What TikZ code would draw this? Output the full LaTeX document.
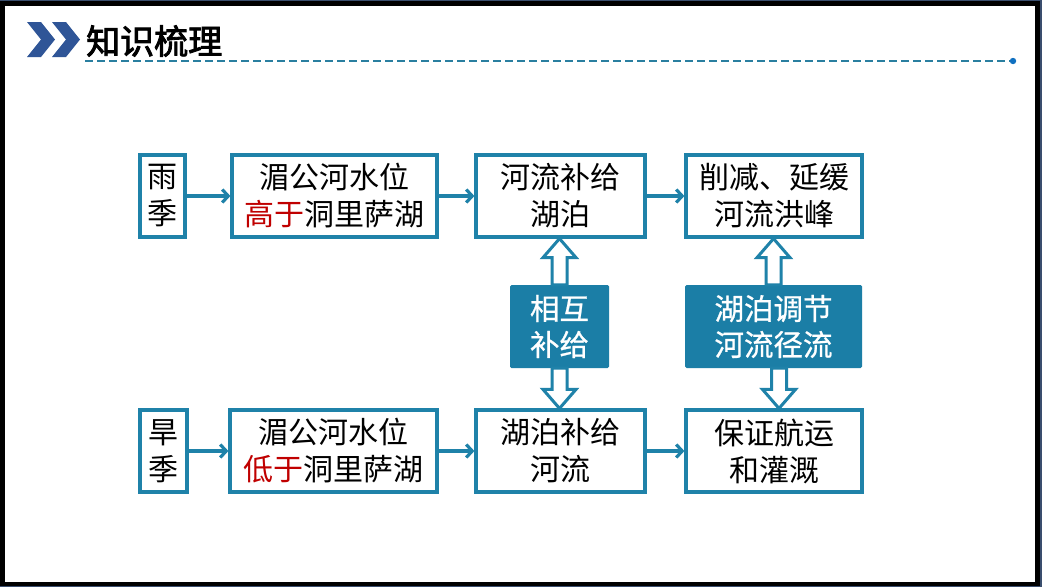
\documentclass[tikz,border=0pt]{standalone}
\usepackage{fontspec}
\newfontfamily\cjk{Noto Sans CJK SC}
\newfontfamily\cjkb[FakeBold=2.5]{Noto Sans CJK SC}
\newfontfamily\cjkm[FakeBold=0.8]{Noto Sans CJK SC}
\usetikzlibrary{arrows.meta,calc}
\definecolor{bc}{HTML}{1F82A9}
\definecolor{mfill}{HTML}{1B7EA6}
\definecolor{slate}{HTML}{3A4E6E}
\definecolor{chev}{HTML}{2F5597}
\definecolor{tred}{HTML}{C00000}
\definecolor{dashc}{HTML}{2A7FA0}
\definecolor{dotc}{HTML}{1070C0}
\tikzset{
  box/.style={draw=bc, line width=3.2pt, fill=white, align=center, inner sep=0pt,
    minimum height=82pt, font=\cjk\fontsize{30}{37}\selectfont, text=black},
  midbox/.style={fill=mfill, rounded corners=1.5pt, align=center, inner sep=0pt,
    minimum height=83pt, font=\cjkm\fontsize{29.5}{36}\selectfont, text=white},
  conn/.style={draw=bc, line width=3.2pt, -{Straight Barb[length=6pt,width=13pt,line width=3.2pt]}},
  harr/.style={draw=bc, line width=3pt, fill=white, line join=miter},
  chevron/.style={fill=chev},
}
\newcommand\blockarrow[4]{% start, tip, x-offset, direction (1 = up, -1 = down)
  \draw[harr] let \p1=#1, \p2=#2 in
    (\x1+#3-7.5pt,\y1) -- (\x1+#3-7.5pt,\y2-#4*19pt) -- (\x1+#3-16.5pt,\y2-#4*19pt)
    -- (\x1+#3,\y2) -- (\x1+#3+16.5pt,\y2-#4*19pt) -- (\x1+#3+7.5pt,\y2-#4*19pt)
    -- (\x1+#3+7.5pt,\y1) -- cycle;}
\begin{document}
\begin{tikzpicture}[x=1pt,y=-1pt]
\useasboundingbox (0,0) rectangle (1042,587);
% frame
\fill[slate] (0,0) rectangle (1042,587);
\fill[black] (0,1) rectangle (1040,586);
\fill[white] (5,5.5) rectangle (1035,581.5);
% title
\fill[chevron] (27,22) -- (41,22) -- (55,39.5) -- (41,57) -- (27,57) -- (41,39.5) -- cycle;
\fill[chevron] (52,22) -- (66,22) -- (80,39.5) -- (66,57) -- (52,57) -- (66,39.5) -- cycle;
\node[anchor=west, inner sep=0pt, font=\cjkb\fontsize{34}{34}\selectfont] (title) at (86,41) {知识梳理};
\coordinate (dl) at (85,61);
\coordinate (dr) at (1013,61);
\draw[dashc, line width=1.2pt, dash pattern=on 8pt off 4pt] (dl) -- (dr);
\fill[dotc] (dr) circle (3.2pt);
% top row
\node[box, minimum width=45pt] (rain) at (162.5,196) {雨\\季};
\node[box, minimum width=205pt] (b12) at (334.5,196) {湄公河水位\\\textcolor{tred}{高于}洞里萨湖};
\node[box, minimum width=169pt] (b13) at (560.5,196) {河流补给\\湖泊};
\node[box, minimum width=176pt] (b14) at (774,196) {削减、延缓\\河流洪峰};
% bottom row
\node[box, minimum width=47pt] (dry) at (163.5,451) {旱\\季};
\node[box, minimum width=207pt] (b22) at (333.5,451) {湄公河水位\\\textcolor{tred}{低于}洞里萨湖};
\node[box, minimum width=169pt] (b23) at (560.5,451) {湖泊补给\\河流};
\node[box, minimum width=176pt] (b24) at (774,451) {保证航运\\和灌溉};
% middle
\node[midbox, minimum width=99pt] (m1) at (559.5,326.5) {相互\\补给};
\node[midbox, minimum width=177pt] (m2) at (773.5,326.5) {湖泊调节\\河流径流};
% connectors
\draw[conn] (rain) -- (b12);
\draw[conn] (b12) -- (b13);
\draw[conn] (b13) -- (b14);
\draw[conn] (dry) -- (b22);
\draw[conn] (b22) -- (b23);
\draw[conn] (b23) -- (b24);
\blockarrow{(m1.north)}{(b13.south)}{0pt}{1}
\blockarrow{(m1.south)}{(b23.north)}{0pt}{-1}
\blockarrow{(m2.north)}{(b14.south)}{0pt}{1}
\blockarrow{(m2.south)}{(b24.north)}{5.5pt}{-1}
\end{tikzpicture}
\end{document}
